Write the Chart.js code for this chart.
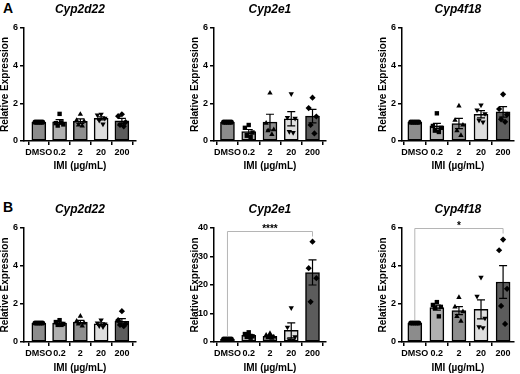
<!DOCTYPE html>
<html>
<head>
<meta charset="utf-8">
<script src="https://cdn.jsdelivr.net/npm/chart.js@4.4.1/dist/chart.umd.min.js"></script>
<style>
body { margin: 0; width: 520px; height: 374px; overflow: hidden; background: #fff; position: relative; font-family: "Liberation Sans", Arial, sans-serif; }
canvas { position: absolute; }
.tag { position: absolute; font-weight: bold; font-size: 14px; line-height: 14px; }
</style>
</head>
<body>
<div class="tag" style="left:3px;top:1px">A</div>
<div class="tag" style="left:3px;top:200px">B</div>
<canvas id="a1" width="140" height="181" style="left:-1px;top:0px"></canvas>
<canvas id="a2" width="140" height="181" style="left:189px;top:0px"></canvas>
<canvas id="a3" width="140" height="181" style="left:377px;top:0px"></canvas>
<canvas id="b1" width="140" height="192" style="left:-1px;top:190px"></canvas>
<canvas id="b2" width="140" height="192" style="left:189px;top:190px"></canvas>
<canvas id="b3" width="140" height="192" style="left:377px;top:190px"></canvas>
<script>
const doses = ["DMSO", "0.2", "2", "20", "200"];

// A: Cyp2d22
const a1Means = [1.0, 1.02, 1.05, 1.2, 1.07];
const a1Sems = [0, 0.12, 0.12, 0.08, 0.13];
const a1Points = [[1, 1, 1, 1, 1], [1.44, 0.95, 0.88, 0.82, 0.99], [1.42, 1.1, 1.05, 0.85, 0.8], [1.42, 1.38, 1.2, 1.1, 0.9], [1.42, 1.32, 1.0, 0.85, 0.78]];

// A: Cyp2e1
const a2Means = [1.0, 0.5, 1.0, 1.18, 1.32];
const a2Sems = [0, 0.11, 0.42, 0.38, 0.36];
const a2Points = [[1, 1, 1, 1, 1], [0.85, 0.7, 0.45, 0.28, 0.22], [2.55, 0.95, 0.6, 0.55, 0.35], [2.5, 1.25, 1.2, 0.5, 0.45], [2.3, 1.75, 1.3, 0.85, 0.4]];

// A: Cyp4f18
const a3Means = [1.0, 0.8, 0.93, 1.42, 1.55];
const a3Sems = [0, 0.14, 0.27, 0.19, 0.28];
const a3Points = [[1, 1, 1, 1, 1], [1.47, 0.8, 0.7, 0.55, 0.48], [1.86, 1.1, 0.85, 0.55, 0.3], [1.91, 1.65, 1.45, 1.1, 1.0], [2.48, 1.7, 1.4, 1.15, 1.02]];

// B: Cyp2d22
const b1Means = [1.0, 0.99, 1.05, 0.95, 1.09];
const b1Sems = [0, 0.05, 0.09, 0.06, 0.14];
const b1Points = [[1, 1, 1, 1, 1], [1.15, 1.05, 0.95, 0.9, 0.9], [1.36, 1.1, 1.0, 0.95, 0.84], [1.15, 1.0, 0.95, 0.85, 0.8], [1.62, 1.15, 0.95, 0.9, 0.83]];

// B: Cyp2e1
const b2Means = [1.0, 2.3, 2.0, 4.1, 24.4];
const b2Sems = [0, 0.35, 0.35, 2.6, 4.4];
const b2Points = [[1, 1, 1, 1, 1], [3.4, 2.8, 2.0, 1.8, 1.5], [3.0, 2.4, 1.8, 1.5, 1.3], [12.0, 5.2, 1.8, 0.8, 0.7], [35.2, 25.9, 22.4, 14.1]];

// B: Cyp4f18
const b3Means = [1.0, 1.81, 1.65, 1.72, 3.16];
const b3Sems = [0, 0.13, 0.21, 0.5, 0.86];
const b3Points = [[1, 1, 1, 1, 1], [2.1, 1.95, 1.85, 1.8, 1.35], [2.35, 1.85, 1.6, 1.35, 1.1], [3.4, 2.4, 1.25, 0.8, 0.75], [5.39, 4.83, 2.8, 1.9, 0.95]];

const yTicks6 = [0, 2, 4, 6];
const yTicks40 = [0, 10, 20, 30, 40];

const barColors = ["#8c8c8c", "#b0b0b0", "#8e8e8e", "#dedede", "#5c5c5c"];
const shapes = ["circle", "rect", "triangle", "triangle", "rectRot"];
const jitter = [0, -0.18, 0.18, -0.09, 0.09];
const fontFamily = '"Liberation Sans", Arial, sans-serif';

Chart.defaults.font.family = fontFamily;
Chart.defaults.color = "#000";

function extrasPlugin(p) {
    return {
        id: "extras",
        afterDatasetsDraw(chart) {
            const { ctx, chartArea, scales: { x, y } } = chart;
            ctx.save();
            // error bars (mean +/- SEM)
            ctx.strokeStyle = "#000";
            ctx.lineWidth = 1.2;
            p.means.forEach((m, i) => {
                if (!p.sems[i]) return;
                const cx = x.getPixelForValue(i);
                const top = y.getPixelForValue(m + p.sems[i]);
                const bot = y.getPixelForValue(m - p.sems[i]);
                ctx.beginPath();
                ctx.moveTo(cx, top); ctx.lineTo(cx, bot);
                ctx.moveTo(cx - 4, top); ctx.lineTo(cx + 4, top);
                ctx.moveTo(cx - 4, bot); ctx.lineTo(cx + 4, bot);
                ctx.stroke();
            });
            // gene title
            ctx.fillStyle = "#000";
            ctx.font = "italic bold 12px " + fontFamily;
            ctx.textAlign = "center";
            ctx.textBaseline = "middle";
            ctx.fillText(p.title, (chartArea.left + chartArea.right) / 2, chartArea.top - 18);
            // significance bracket
            if (p.sig) {
                const yb = Math.round(y.getPixelForValue(p.sigLevel)) + 0.5;
                const x0 = x.getPixelForValue(0);
                const x4 = x.getPixelForValue(4);
                const leftEnd = y.getPixelForValue(p.means[0]) - 3;
                ctx.strokeStyle = "#b5b5b5";
                ctx.lineWidth = 1;
                ctx.beginPath();
                ctx.moveTo(x0, leftEnd);
                ctx.lineTo(x0, yb);
                ctx.lineTo(x4, yb);
                ctx.lineTo(x4, yb + 5);
                ctx.stroke();
                ctx.font = "bold 10px " + fontFamily;
                ctx.textBaseline = "alphabetic";
                ctx.fillText(p.sig, x.getPixelForValue(2), yb);
            }
            ctx.restore();
        }
    };
}

function drawPanel(id, title, means, sems, points, ticks, p) {
    const barData = doses.map((d, i) => ({ x: i, y: means[i] }));
    const pointSets = points.map((vals, i) => ({
        type: "scatter",
        data: vals.map((v, j) => ({ x: i + jitter[j % jitter.length], y: v })),
        pointStyle: shapes[i],
        rotation: i === 3 ? 180 : 0,
        pointRadius: i === 0 ? 2.6 : 3.1,
        pointHoverRadius: 0,
        backgroundColor: "#000",
        borderColor: "#000",
        borderWidth: 0,
        order: 1
    }));

    new Chart(document.getElementById(id), {
        type: "bar",
        data: {
            datasets: [
                {
                    type: "bar",
                    data: barData,
                    backgroundColor: barColors,
                    borderColor: "#000",
                    borderWidth: 1.5,
                    borderSkipped: false,
                    barThickness: 14,
                    order: 2
                },
                ...pointSets
            ]
        },
        options: {
            responsive: false,
            animation: false,
            events: [],
            layout: { padding: { top: p.top, right: 2, left: 0, bottom: 0 } },
            plugins: { legend: { display: false }, tooltip: { enabled: false } },
            scales: {
                x: {
                    type: "linear",
                    min: p.xMin,
                    max: p.xMax,
                    offset: false,
                    afterBuildTicks(scale) {
                        scale.ticks = doses.map((d, i) => ({ value: i }));
                    },
                    ticks: {
                        autoSkip: false,
                        maxRotation: 0,
                        padding: 2,
                        color: "#000",
                        font: { size: 9, weight: "bold" },
                        callback: v => doses[v]
                    },
                    grid: { drawOnChartArea: false, color: "#000", lineWidth: 1.5, tickLength: 4 },
                    border: { color: "#000", width: 1.5 },
                    title: {
                        display: true,
                        text: "IMI (µg/mL)",
                        color: "#000",
                        font: { size: 10, weight: "bold" },
                        padding: { top: 0, bottom: p.xTitlePad }
                    },
                    afterFit(scale) { scale.height = 40; }
                },
                y: {
                    min: ticks[0],
                    max: ticks[ticks.length - 1],
                    afterBuildTicks(scale) {
                        scale.ticks = ticks.map(v => ({ value: v }));
                    },
                    ticks: { padding: 2, color: "#000", font: { size: 9, weight: "bold" } },
                    grid: { drawOnChartArea: false, color: "#000", lineWidth: 1.5, tickLength: 4 },
                    border: { color: "#000", width: 1.5 },
                    title: {
                        display: true,
                        text: "Relative Expression",
                        color: "#000",
                        font: { size: 10, weight: "bold" },
                        padding: { top: 0, bottom: 0 }
                    },
                    afterFit(scale) { scale.width = 25; }
                }
            }
        },
        plugins: [extrasPlugin({ title, means, sems, sig: p.sig, sigLevel: p.sigLevel })]
    });
}

const col1 = { xMin: -0.714, xMax: 4.675 };
const col2 = { xMin: -0.633, xMax: 4.63 };
const col3 = { xMin: -0.58, xMax: 4.49 };
const rowA = { top: 28, xTitlePad: 9 };
const rowB = { top: 38, xTitlePad: 8 };

drawPanel("a1", "Cyp2d22", a1Means, a1Sems, a1Points, yTicks6, { ...col1, ...rowA });
drawPanel("a2", "Cyp2e1", a2Means, a2Sems, a2Points, yTicks6, { ...col2, ...rowA });
drawPanel("a3", "Cyp4f18", a3Means, a3Sems, a3Points, yTicks6, { ...col3, ...rowA });
drawPanel("b1", "Cyp2d22", b1Means, b1Sems, b1Points, yTicks6, { ...col1, ...rowB });
drawPanel("b2", "Cyp2e1", b2Means, b2Sems, b2Points, yTicks40, { ...col2, ...rowB, sig: "****", sigLevel: 39 });
drawPanel("b3", "Cyp4f18", b3Means, b3Sems, b3Points, yTicks6, { ...col3, ...rowB, sig: "*", sigLevel: 6 });
</script>
</body>
</html>
